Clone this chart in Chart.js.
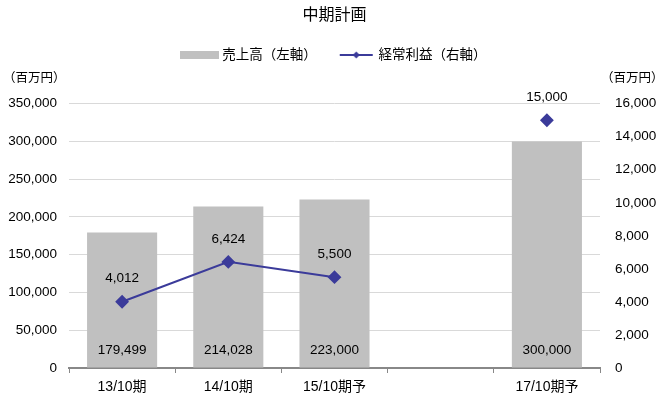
<!DOCTYPE html>
<html><head><meta charset="utf-8">
<script src="https://cdn.jsdelivr.net/npm/chart.js@4/dist/chart.umd.min.js"></script>
<style>html,body{margin:0;padding:0;background:#fff}#w{width:669px;height:399px}</style>
</head><body><div id="w"><canvas id="c"></canvas></div>
<script>
const categories = ['13/10期', '14/10期', '15/10期予', '', '17/10期予'];
const salesValues = [179499, 214028, 223000, null, 300000];
const profitValues = [4012, 6424, 5500, null, 15000];
const leftTicks = [0, 50000, 100000, 150000, 200000, 250000, 300000, 350000];
const rightTicks = [0, 2000, 4000, 6000, 8000, 10000, 12000, 14000, 16000];
const titleText = '中期計画';
const salesName = '売上高（左軸）';
const profitName = '経常利益（右軸）';
const unitText = '（百万円）';

const FONT = "'Liberation Sans', 'Noto Sans CJK JP', sans-serif";
const CJK = "'Noto Sans CJK JP', sans-serif";
const LINE_COLOR = '#3b3b9a';
const BAR_COLOR = '#c0c0c0';

function makeBarIcon(){const c=document.createElement('canvas');c.width=39;c.height=8;const x=c.getContext('2d');x.fillStyle=BAR_COLOR;x.fillRect(0,0,39,8);return c;}
function makeLineIcon(){const c=document.createElement('canvas');c.width=39;c.height=10;const x=c.getContext('2d');x.strokeStyle=LINE_COLOR;x.lineWidth=2;x.beginPath();x.moveTo(4,5);x.lineTo(37,5);x.stroke();x.fillStyle=LINE_COLOR;x.beginPath();x.moveTo(20.5,1.5);x.lineTo(24,5);x.lineTo(20.5,8.5);x.lineTo(17,5);x.closePath();x.fill();return c;}
const barIcon = makeBarIcon(), lineIcon = makeLineIcon();

const fmt = v => v.toLocaleString('en-US');

const legendSpace = {
  id: 'legendSpace',
  beforeInit(chart){
    const lg = chart.legend;
    const orig = lg.fit;
    lg.fit = function(){ orig.call(this); this.height += 32; };
  }
};

const labelPlugin = {
  id: 'labels',
  afterDatasetsDraw(chart){
    const ctx = chart.ctx;
    ctx.save();
    ctx.font = '13.5px ' + FONT;
    ctx.fillStyle = '#000';
    ctx.textAlign = 'center';
    ctx.textBaseline = 'middle';
    const bottom = chart.chartArea.bottom;
    chart.getDatasetMeta(0).data.forEach((el,i)=>{
      if (salesValues[i]==null) return;
      ctx.fillText(fmt(salesValues[i]), el.x, bottom - 18);
    });
    chart.getDatasetMeta(1).data.forEach((el,i)=>{
      if (profitValues[i]==null) return;
      ctx.fillText(fmt(profitValues[i]), el.x, el.y - 23);
    });
    ctx.font = '12.5px ' + CJK;
    ctx.textAlign = 'left';
    ctx.fillText(unitText, 3, 77);
    ctx.fillText(unitText, 601, 77);
    ctx.restore();
  }
};

new Chart(document.getElementById('c'), {
  data: {
    labels: categories,
    datasets: [
      { type: 'bar', label: salesName, data: salesValues, backgroundColor: BAR_COLOR, yAxisID: 'y', order: 2,
        barPercentage: 0.66, categoryPercentage: 1 },
      { type: 'line', label: profitName, data: profitValues, borderColor: LINE_COLOR, backgroundColor: LINE_COLOR,
        borderWidth: 2, pointStyle: 'rectRot', pointRadius: 5.5, pointHoverRadius: 5.5, yAxisID: 'y1', order: 1,
        spanGaps: false, tension: 0 }
    ]
  },
  options: {
    responsive: true, maintainAspectRatio: false, animation: false,
    layout: { padding: { top: 0, bottom: 3, left: 0, right: 0 } },
    plugins: {
      title: { display: true, text: titleText, color: '#000', font: { family: CJK, size: 16, weight: 'normal' }, padding: { top: 4, bottom: 3 } },
      legend: { position: 'top', onClick: null,
        labels: { color: '#000', font: { family: FONT, size: 13.5 }, usePointStyle: true, pointStyleWidth: 33, boxHeight: 10,
          padding: 22,
          generateLabels(chart){ return [
            { text: salesName, pointStyle: barIcon, fillStyle: BAR_COLOR, strokeStyle: BAR_COLOR, lineWidth: 0, datasetIndex: 0 },
            { text: profitName, pointStyle: lineIcon, fillStyle: LINE_COLOR, strokeStyle: LINE_COLOR, lineWidth: 0, datasetIndex: 1 }
          ]; } } },
      tooltip: { enabled: false }
    },
    scales: {
      x: {
        offset: true,
        afterFit(s){ s.height = 28; },
        grid: { display: true, offset: true, drawOnChartArea: false, drawTicks: true, tickLength: 5, color: '#888', lineWidth: 1 },
        border: { display: true, color: '#888', width: 2 },
        ticks: { color: '#000', font: { family: FONT, size: 14 }, padding: 6, maxRotation: 0 }
      },
      y: {
        position: 'left', min: 0, max: 350000,
        afterBuildTicks(s){ s.ticks = leftTicks.map(v=>({value:v})); },
        afterFit(s){ s.width = 69; },
        grid: { color: '#d9d9d9', drawTicks: false, lineWidth: 1 },
        border: { display: false },
        ticks: { color: '#000', font: { family: FONT, size: 13.5 }, padding: 12, callback: v => fmt(v) }
      },
      y1: {
        position: 'right', min: 0, max: 16000,
        afterBuildTicks(s){ s.ticks = rightTicks.map(v=>({value:v})); },
        afterFit(s){ s.width = 69; },
        grid: { drawOnChartArea: false, drawTicks: false },
        border: { display: false },
        ticks: { color: '#000', font: { family: FONT, size: 13.5 }, padding: 15, callback: v => fmt(v) }
      }
    }
  },
  plugins: [legendSpace, labelPlugin]
});
</script>
</body></html>
